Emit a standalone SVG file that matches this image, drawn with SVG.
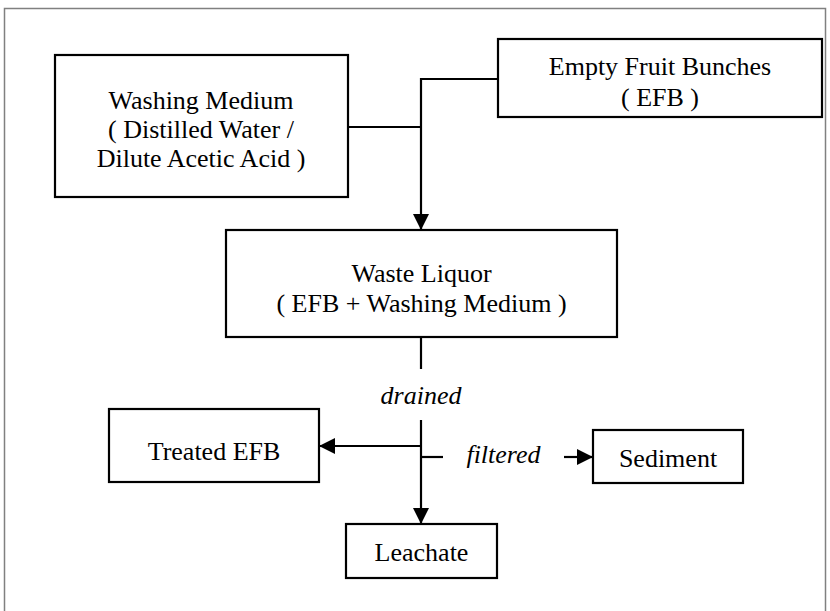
<svg xmlns="http://www.w3.org/2000/svg" width="830" height="611" viewBox="0 0 830 611">
  <style>
    .box { fill: #ffffff; stroke: #000000; stroke-width: 2.2; }
    text { font-family: 'Liberation Serif', 'DejaVu Serif', serif; font-size: 26px; fill: #000000; text-anchor: middle; }
    .it { font-style: italic; }
    .c { fill: none; stroke: #000000; stroke-width: 2.2; }
  </style>
  <defs>
    <marker id="arr" markerUnits="userSpaceOnUse" markerWidth="16" markerHeight="16" viewBox="0 0 16 16" refX="16" refY="8" orient="auto">
      <path d="M0,0 L16,8 L0,16 Z" fill="#000000"/>
    </marker>
  </defs>
  <rect x="0" y="0" width="830" height="611" fill="#ffffff"/>
  <rect x="4.5" y="8.5" width="821" height="620" fill="none" stroke="#808080" stroke-width="1.5"/>

  <g id="connectors" font-family="Liberation Serif, serif">
    <path class="c" d="M348,127 H421"/>
    <path class="c" d="M498,79 H421 V230" marker-end="url(#arr)"/>
    <path class="c" d="M421,337 V369"/>
    <path class="c" d="M421,420 V524" marker-end="url(#arr)"/>
    <path class="c" d="M421,446 H319" marker-end="url(#arr)"/>
    <path class="c" d="M421,457 H443"/>
    <path class="c" d="M564,457 H593" marker-end="url(#arr)"/>
    <text class="it" x="421" y="404">drained</text>
    <text class="it" x="503.5" y="463">filtered</text>
  </g>

  <g id="washing-medium">
    <rect class="box" x="55" y="55" width="293" height="142"/>
    <text x="201" y="109">Washing Medium</text>
    <text x="201" y="138">( Distilled Water /</text>
    <text x="201" y="167">Dilute Acetic Acid )</text>
  </g>

  <g id="efb">
    <rect class="box" x="498" y="39" width="324" height="78"/>
    <text x="660" y="75">Empty Fruit Bunches</text>
    <text x="660" y="106">( EFB )</text>
  </g>

  <g id="waste-liquor">
    <rect class="box" x="226" y="230" width="391" height="107"/>
    <text x="421.5" y="282">Waste Liquor</text>
    <text x="421.5" y="312">( EFB + Washing Medium )</text>
  </g>

  <g id="treated-efb">
    <rect class="box" x="109" y="409" width="210" height="73"/>
    <text x="214" y="460">Treated EFB</text>
  </g>

  <g id="sediment">
    <rect class="box" x="593" y="430" width="150" height="53"/>
    <text x="668" y="467">Sediment</text>
  </g>

  <g id="leachate">
    <rect class="box" x="346" y="524" width="151" height="54"/>
    <text x="421.5" y="561">Leachate</text>
  </g>
</svg>
